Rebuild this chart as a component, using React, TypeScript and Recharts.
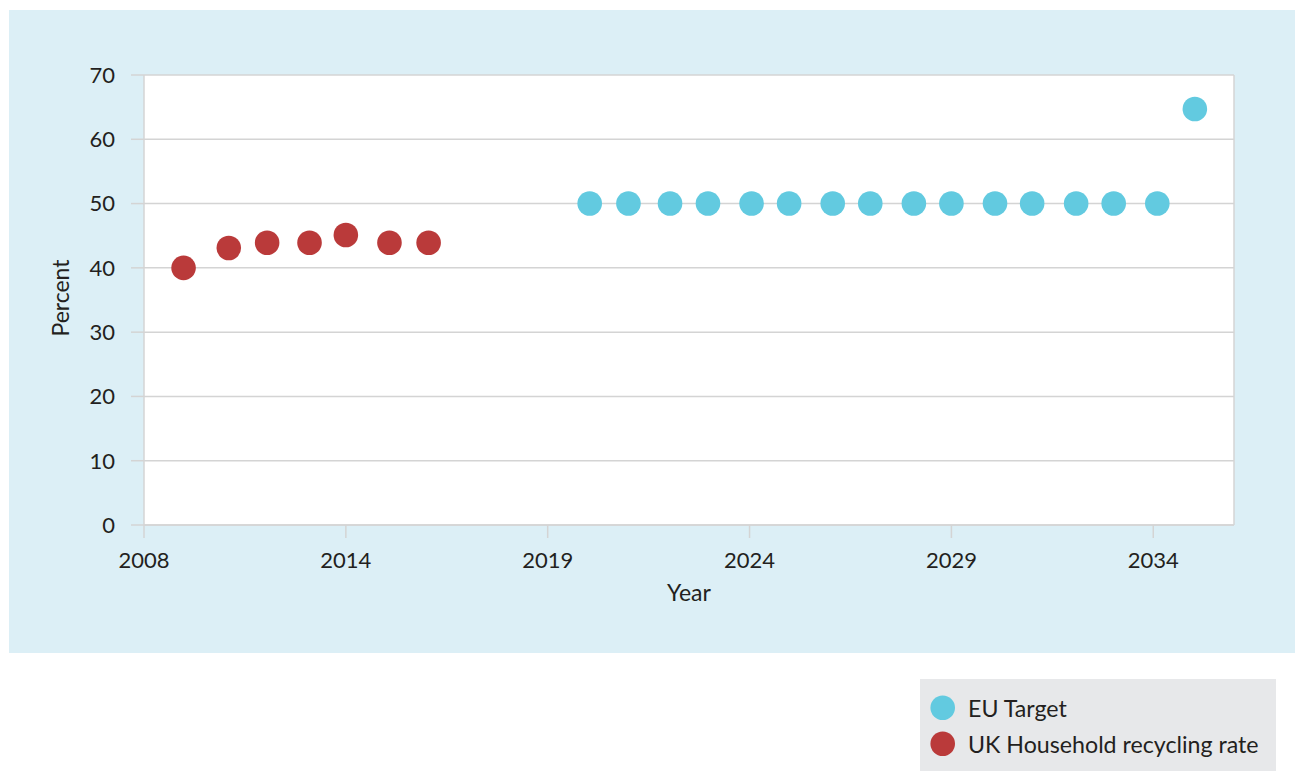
import React from 'react';
import { ScatterChart, Scatter, XAxis, YAxis, CartesianGrid, ReferenceLine, Legend } from 'recharts';

const ukYears = [2009.98, 2011.1, 2012.05, 2013.1, 2014.0, 2015.08, 2016.05];
const ukRates = [40, 43.1, 43.9, 43.9, 45.1, 43.9, 43.9];
const euYears = [2020.04, 2021.0, 2022.03, 2022.97, 2024.05, 2024.98, 2026.06, 2026.99, 2028.07, 2029.0, 2030.08, 2031.0, 2032.09, 2033.02, 2034.1, 2035.03];
const euTargets = [50, 50, 50, 50, 50, 50, 50, 50, 50, 50, 50, 50, 50, 50, 50, 64.7];
const xTickValues = [2009, 2014, 2019, 2024, 2029, 2034];
const xTickLabels = ['2008', '2014', '2019', '2024', '2029', '2034'];
const yTickValues = [0, 10, 20, 30, 40, 50, 60, 70];
const seriesNames = ['EU Target', 'UK Household recycling rate'];

const ukData = ukYears.map((x, i) => ({ x, y: ukRates[i] }));
const euData = euYears.map((x, i) => ({ x, y: euTargets[i] }));

const RED = '#BA3A3A';
const BLUE = '#62CAE0';
const GRID = '#D4D4D4';
const TEXT = '#231F20';
const FONT = 'Lato, "Open Sans", sans-serif';

const dot = (color: string) => (props: any) => (
  <circle cx={props.cx} cy={props.cy} r={12.3} fill={color} />
);

const LegendBox = () => (
  <svg width={356} height={92} style={{ display: 'block' }}>
    {seriesNames.map((name, i) => (
      <g key={name}>
        <circle cx={22.7} cy={28.7 + i * 36} r={12.3} fill={i === 0 ? BLUE : RED} />
        <text x={48} y={28.7 + i * 36} dominantBaseline="central" fontSize={23.2} fill={TEXT} fontFamily={FONT}>
          {name}
        </text>
      </g>
    ))}
  </svg>
);

export default function App() {
  return (
    <div style={{ position: 'absolute', left: 0, top: 0, width: 1295, height: 771, background: '#fff', fontFamily: FONT }}>
      <div style={{ position: 'absolute', left: 9, top: 10, width: 1286, height: 643, background: '#DCEFF6' }}>
        <ScatterChart width={1286} height={643} margin={{ top: 65, right: 61, bottom: 0, left: 0 }}>
          <CartesianGrid vertical={false} horizontal={true} stroke={GRID} strokeWidth={1.5} fill="#ffffff" fillOpacity={1} />
          <XAxis
            type="number"
            dataKey="x"
            domain={[2009, 2036]}
            ticks={xTickValues}
            tickFormatter={(v: number) => xTickLabels[xTickValues.indexOf(v)] ?? String(v)}
            height={128}
            tickSize={13}
            tickMargin={14}
            axisLine={{ stroke: GRID, strokeWidth: 1.5 }}
            tickLine={{ stroke: GRID, strokeWidth: 1.5 }}
            tick={{ fontSize: 22, fill: TEXT, fontFamily: FONT }}
            allowDataOverflow
            label={{
              content: (p: any) => {
                const vb = p.viewBox;
                return (
                  <text x={vb.x + vb.width / 2 + 0} y={592} textAnchor="middle" dominantBaseline="central" fontSize={23} fill={TEXT} fontFamily={FONT} transform="translate(0,-10)">
                    Year
                  </text>
                );
              },
            }}
          />
          <YAxis
            type="number"
            dataKey="y"
            domain={[0, 70]}
            ticks={yTickValues}
            width={135}
            tickSize={13}
            tickMargin={16}
            axisLine={{ stroke: GRID, strokeWidth: 1.5 }}
            tickLine={{ stroke: GRID, strokeWidth: 1.5 }}
            tick={{ fontSize: 22, fill: TEXT, fontFamily: FONT }}
            label={{
              content: (p: any) => {
                const vb = p.viewBox;
                const cx = 51;
                const cy = vb.y + vb.height / 2 - 2;
                return (
                  <text x={cx} y={cy} textAnchor="middle" dominantBaseline="central" fontSize={23} fill={TEXT} fontFamily={FONT} transform={`rotate(-90, ${cx}, ${cy})`}>
                    Percent
                  </text>
                );
              },
            }}
          />
          <ReferenceLine x={2036} stroke={GRID} strokeWidth={1.5} />
          <Scatter name={seriesNames[1]} data={ukData} fill={RED} shape={dot(RED)} isAnimationActive={false} />
          <Scatter name={seriesNames[0]} data={euData} fill={BLUE} shape={dot(BLUE)} isAnimationActive={false} />
          <Legend
            layout="vertical"
            align="center"
            verticalAlign="middle"
            wrapperStyle={{ position: 'absolute', left: 911, top: 669, width: 356, height: 92, background: '#E7E8EA', margin: 0, padding: 0 }}
            content={() => <LegendBox />}
          />
        </ScatterChart>
      </div>
    </div>
  );
}
